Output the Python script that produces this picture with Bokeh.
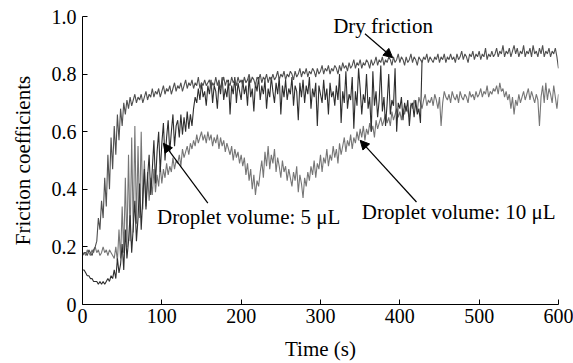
from bokeh.plotting import figure
from bokeh.models import Range1d, Label, Arrow, NormalHead, FixedTicker
from bokeh.embed import file_html
from bokeh.resources import INLINE

# ---- data (time step 2 s) ----
time_s = list(range(0, 602, 2))

dry_friction = [
    0.17, 0.18, 0.18, 0.17, 0.19, 0.18, 0.17, 0.19, 0.20, 0.22, 0.30, 0.26, 0.36, 0.30, 0.44, 0.34, 0.52, 0.40, 0.58, 0.47,
    0.62, 0.52, 0.66, 0.57, 0.68, 0.62, 0.70, 0.66, 0.71, 0.68, 0.72, 0.69, 0.71, 0.73, 0.70, 0.72, 0.71, 0.73, 0.70, 0.72,
    0.74, 0.71, 0.73, 0.72, 0.75, 0.72, 0.74, 0.73, 0.75, 0.72, 0.74, 0.76, 0.73, 0.75, 0.74, 0.76, 0.73, 0.75, 0.77, 0.74,
    0.76, 0.75, 0.77, 0.74, 0.76, 0.78, 0.75, 0.77, 0.76, 0.78, 0.75, 0.77, 0.76, 0.79, 0.75, 0.77, 0.76, 0.78, 0.76, 0.77,
    0.78, 0.75, 0.77, 0.76, 0.79, 0.76, 0.78, 0.75, 0.77, 0.79, 0.76, 0.78, 0.77, 0.76, 0.79, 0.77, 0.78, 0.76, 0.79, 0.77,
    0.78, 0.76, 0.79, 0.77, 0.78, 0.80, 0.77, 0.79, 0.78, 0.76, 0.79, 0.78, 0.80, 0.77, 0.79, 0.78, 0.80, 0.77, 0.79, 0.78,
    0.80, 0.78, 0.79, 0.81, 0.78, 0.80, 0.79, 0.81, 0.78, 0.80, 0.79, 0.81, 0.80, 0.78, 0.81, 0.79, 0.80, 0.82, 0.79, 0.81,
    0.80, 0.82, 0.79, 0.81, 0.80, 0.82, 0.81, 0.79, 0.82, 0.80, 0.81, 0.83, 0.80, 0.82, 0.81, 0.83, 0.80, 0.82, 0.81, 0.83,
    0.82, 0.80, 0.83, 0.81, 0.84, 0.82, 0.83, 0.81, 0.84, 0.82, 0.83, 0.85, 0.82, 0.84, 0.83, 0.85, 0.82, 0.84, 0.83, 0.85,
    0.84, 0.82, 0.85, 0.83, 0.84, 0.86, 0.83, 0.85, 0.84, 0.86, 0.83, 0.85, 0.84, 0.86, 0.85, 0.83, 0.86, 0.84, 0.85, 0.87,
    0.84, 0.86, 0.85, 0.83, 0.86, 0.84, 0.85, 0.87, 0.84, 0.86, 0.85, 0.83, 0.86, 0.85, 0.84, 0.86, 0.85, 0.87, 0.84, 0.86,
    0.85, 0.84, 0.86, 0.85, 0.87, 0.84, 0.86, 0.85, 0.87, 0.84, 0.86, 0.85, 0.87, 0.85, 0.86, 0.84, 0.87, 0.85, 0.86, 0.88,
    0.85, 0.87, 0.86, 0.84, 0.87, 0.86, 0.88, 0.85, 0.87, 0.86, 0.88, 0.85, 0.87, 0.86, 0.89, 0.85, 0.87, 0.86, 0.88, 0.86,
    0.87, 0.89, 0.86, 0.88, 0.87, 0.90, 0.86, 0.88, 0.87, 0.89, 0.86, 0.88, 0.90, 0.87, 0.89, 0.86, 0.88, 0.87, 0.90, 0.86,
    0.88, 0.87, 0.89, 0.86, 0.90, 0.87, 0.88, 0.86, 0.89, 0.87, 0.90, 0.86, 0.88, 0.87, 0.89, 0.86, 0.88, 0.87, 0.89, 0.86,
    0.82,
]

droplet_5ul = [
    0.12, 0.12, 0.11, 0.10, 0.10, 0.09, 0.09, 0.08, 0.08, 0.08, 0.07, 0.08, 0.07, 0.08, 0.07, 0.08, 0.09, 0.08, 0.10, 0.09,
    0.12, 0.09, 0.16, 0.11, 0.14, 0.21, 0.12, 0.26, 0.16, 0.22, 0.31, 0.18, 0.27, 0.36, 0.22, 0.30, 0.42, 0.26, 0.37, 0.47,
    0.33, 0.44, 0.52, 0.38, 0.47, 0.57, 0.42, 0.53, 0.60, 0.46, 0.56, 0.63, 0.50, 0.58, 0.64, 0.53, 0.60, 0.66, 0.55, 0.62,
    0.64, 0.58, 0.66, 0.59, 0.65, 0.60, 0.67, 0.61, 0.66, 0.62, 0.68, 0.72, 0.70, 0.75, 0.71, 0.77, 0.72, 0.74, 0.69, 0.76,
    0.73, 0.78, 0.70, 0.76, 0.74, 0.68, 0.77, 0.73, 0.79, 0.71, 0.75, 0.72, 0.78, 0.66, 0.76, 0.73, 0.79, 0.70, 0.77, 0.74,
    0.71, 0.78, 0.73, 0.76, 0.69, 0.79, 0.72, 0.75, 0.67, 0.77, 0.74, 0.79, 0.71, 0.76, 0.73, 0.78, 0.68, 0.75, 0.72, 0.79,
    0.74, 0.70, 0.77, 0.73, 0.79, 0.66, 0.76, 0.72, 0.78, 0.71, 0.75, 0.73, 0.79, 0.69, 0.76, 0.74, 0.64, 0.77, 0.72, 0.78,
    0.70, 0.76, 0.73, 0.79, 0.68, 0.75, 0.72, 0.77, 0.62, 0.76, 0.73, 0.70, 0.78, 0.71, 0.75, 0.66, 0.77, 0.72, 0.74, 0.69,
    0.76, 0.71, 0.80, 0.63, 0.74, 0.70, 0.81, 0.68, 0.73, 0.71, 0.79, 0.61, 0.74, 0.69, 0.82, 0.75, 0.66, 0.73, 0.70, 0.80,
    0.68, 0.72, 0.60, 0.81, 0.69, 0.74, 0.65, 0.71, 0.83, 0.67, 0.72, 0.62, 0.70, 0.80, 0.66, 0.71, 0.69, 0.82, 0.60, 0.70,
    0.68, 0.72, 0.64, 0.70, 0.67, 0.71, 0.62, 0.69, 0.70, 0.65, 0.71, 0.66, 0.68, 0.63, 0.85,
]

droplet_10ul = [
    0.17, 0.18, 0.17, 0.19, 0.18, 0.17, 0.19, 0.18, 0.20, 0.18, 0.19, 0.17, 0.18, 0.20, 0.18, 0.19, 0.17, 0.19, 0.18, 0.17,
    0.16, 0.20, 0.15, 0.26, 0.16, 0.34, 0.18, 0.44, 0.20, 0.52, 0.22, 0.58, 0.25, 0.62, 0.28, 0.55, 0.30, 0.60, 0.33, 0.50,
    0.34, 0.46, 0.36, 0.44, 0.38, 0.47, 0.39, 0.45, 0.41, 0.48, 0.42, 0.47, 0.44, 0.49, 0.45, 0.48, 0.46, 0.51, 0.47, 0.50,
    0.49, 0.52, 0.48, 0.54, 0.51, 0.53, 0.55, 0.52, 0.56, 0.54, 0.57, 0.55, 0.59, 0.56, 0.58, 0.60, 0.57, 0.59, 0.56, 0.60,
    0.57, 0.59, 0.55, 0.58, 0.56, 0.59, 0.54, 0.58, 0.55, 0.57, 0.53, 0.56, 0.54, 0.52, 0.55, 0.50, 0.54, 0.51, 0.53, 0.49,
    0.52, 0.48, 0.51, 0.45, 0.49, 0.43, 0.47, 0.40, 0.45, 0.38, 0.43, 0.41, 0.46, 0.50, 0.44, 0.53, 0.48, 0.55, 0.47, 0.52,
    0.49, 0.54, 0.46, 0.51, 0.48, 0.44, 0.50, 0.46, 0.48, 0.43, 0.47, 0.44, 0.41, 0.46, 0.43, 0.48, 0.39, 0.45, 0.42, 0.37,
    0.44, 0.41, 0.46, 0.43, 0.48, 0.45, 0.50, 0.44, 0.49, 0.47, 0.52, 0.46, 0.51, 0.49, 0.54, 0.48, 0.52, 0.50, 0.55, 0.51,
    0.54, 0.49, 0.56, 0.52, 0.55, 0.58, 0.53, 0.57, 0.55, 0.59, 0.54, 0.58, 0.56, 0.60, 0.57, 0.61, 0.58, 0.62, 0.57, 0.61,
    0.59, 0.63, 0.60, 0.62, 0.58, 0.64, 0.61, 0.63, 0.65, 0.62, 0.64, 0.66, 0.63, 0.65, 0.62, 0.67, 0.64, 0.66, 0.68, 0.65,
    0.67, 0.64, 0.68, 0.66, 0.69, 0.67, 0.65, 0.70, 0.68, 0.71, 0.69, 0.67, 0.72, 0.70, 0.68, 0.71, 0.73, 0.69, 0.71, 0.70,
    0.72, 0.69, 0.73, 0.71, 0.68, 0.72, 0.62, 0.70, 0.74, 0.72, 0.71, 0.73, 0.70, 0.74, 0.72, 0.71, 0.73, 0.70, 0.74, 0.72,
    0.71, 0.73, 0.72, 0.70, 0.74, 0.72, 0.73, 0.71, 0.74, 0.72, 0.73, 0.75, 0.72, 0.74, 0.73, 0.76, 0.72, 0.74, 0.73, 0.75,
    0.74, 0.76, 0.73, 0.77, 0.74, 0.75, 0.72, 0.74, 0.71, 0.73, 0.68, 0.72, 0.66, 0.71, 0.69, 0.73, 0.70, 0.72, 0.74, 0.71,
    0.73, 0.75, 0.71, 0.74, 0.72, 0.70, 0.73, 0.71, 0.62, 0.72, 0.76, 0.70, 0.77, 0.71, 0.75, 0.73, 0.70, 0.76, 0.72, 0.68,
    0.73,
]

x_ticks = [0, 100, 200, 300, 400, 500, 600]
y_ticks = [0, 0.2, 0.4, 0.6, 0.8, 1.0]
y_tick_labels = {0: "0", 0.2: "0.2", 0.4: "0.4", 0.6: "0.6", 0.8: "0.8", 1.0: "1.0"}

# annotations: (text, text_x, text_y, arrow_start_x, arrow_start_y, arrow_end_x, arrow_end_y)
annotations = [
    ("Dry friction", 316, 0.968, 356, 0.94, 391, 0.857),
    ("Droplet volume: 5 \u03bcL", 94, 0.304, 158, 0.352, 102, 0.56),
    ("Droplet volume: 10 \u03bcL", 352, 0.32, 421, 0.356, 350, 0.57),
]

FONT = "Liberation Serif"

p = figure(width=573, height=363, output_backend="svg", toolbar_location=None,
           x_range=Range1d(0, 600), y_range=Range1d(0, 1.0),
           min_border_left=82, min_border_right=15, min_border_top=16, min_border_bottom=58)
p.outline_line_color = None
p.grid.visible = False
p.background_fill_color = "white"
p.border_fill_color = "white"

p.line(time_s[:len(droplet_10ul)], droplet_10ul, line_color="#767676", line_width=1.1)
p.line(time_s[:len(droplet_5ul)], droplet_5ul, line_color="#2e2e2e", line_width=1.1)
p.line(time_s[:len(dry_friction)], dry_friction, line_color="#505050", line_width=1.1)

for ax in (p.xaxis[0], p.yaxis[0]):
    ax.axis_line_color = "black"
    ax.axis_line_width = 1
    ax.major_tick_in = 5
    ax.major_tick_out = 0
    ax.minor_tick_line_color = None
    ax.major_tick_line_color = "black"
    ax.major_label_text_font = FONT
    ax.major_label_text_font_size = "20px"
    ax.major_label_text_color = "black"
    ax.axis_label_text_font = FONT
    ax.axis_label_text_font_size = "21px"
    ax.axis_label_text_font_style = "normal"
    ax.axis_label_text_color = "black"

p.xaxis[0].ticker = FixedTicker(ticks=x_ticks)
p.yaxis[0].ticker = FixedTicker(ticks=y_ticks)
p.yaxis[0].major_label_overrides = y_tick_labels
p.xaxis[0].axis_label = "Time (s)"
p.yaxis[0].axis_label = "Friction coefficients"
p.xaxis[0].major_label_standoff = 4
p.yaxis[0].major_label_standoff = 6
p.xaxis[0].axis_label_standoff = 11
p.yaxis[0].axis_label_standoff = 14

for text, tx, ty, sx, sy, ex, ey in annotations:
    p.add_layout(Label(x=tx, y=ty, text=text, text_font=FONT, text_font_size="21px",
                       text_baseline="middle", text_align="left", text_color="black"))
    p.add_layout(Arrow(end=NormalHead(size=9, fill_color="black", line_color="black"),
                       x_start=sx, y_start=sy, x_end=ex, y_end=ey,
                       line_color="black", line_width=1.2))

open("out.html", "w").write(file_html(p, INLINE))
